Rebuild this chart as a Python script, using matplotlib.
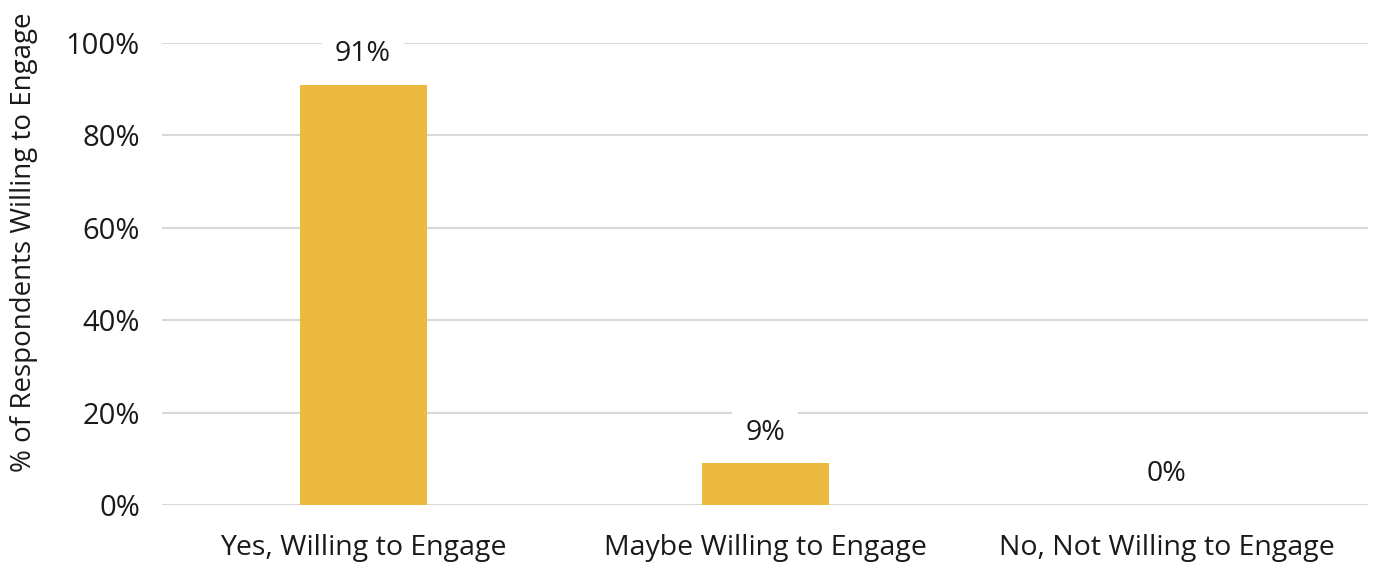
import matplotlib
import matplotlib.pyplot as plt

matplotlib.use("Agg")

# Data
categories = ["Yes, Willing to Engage", "Maybe Willing to Engage", "No, Not Willing to Engage"]
values = [91, 9, 0]
yticks = [0, 20, 40, 60, 80, 100]

plt.rcParams["font.family"] = ["Open Sans", "DejaVu Sans"]

fig = plt.figure(figsize=(13.74, 5.63), dpi=100)
ax = fig.add_axes([0.118, 0.103, 0.8776, 0.8206])

x = range(len(categories))
ax.bar(x, values, width=0.316, color="#ECBA3E", zorder=2)

for xi, v in zip(x, values):
    ax.annotate(f"{v}%", (xi, v), xytext=(0, 22), textcoords="offset points",
                ha="center", va="center", fontsize=20.5, color="#1a1a1a", zorder=3,
                bbox=dict(boxstyle="square,pad=0.45", fc="white", ec="none"))

ax.set_xlim(-0.5, 2.5)
ax.set_ylim(0, 100)
ax.set_yticks(yticks)
ax.set_yticklabels([f"{t}%" for t in yticks])
ax.set_xticks(list(x))
ax.set_xticklabels(categories)
ax.tick_params(axis="y", length=0, labelsize=21, colors="#1a1a1a", pad=16)
ax.tick_params(axis="x", length=0, labelsize=20.5, colors="#1a1a1a", pad=21)
ax.grid(axis="y", color="#D9D9D9", linewidth=1.5, zorder=0)
ax.set_axisbelow(True)
for s in ax.spines.values():
    s.set_visible(False)
ax.set_ylabel("% of Respondents Willing to Engage", fontsize=20, color="#1a1a1a")
ax.yaxis.set_label_coords(-0.103, 0.569)

fig.savefig("out.png", dpi=100)
